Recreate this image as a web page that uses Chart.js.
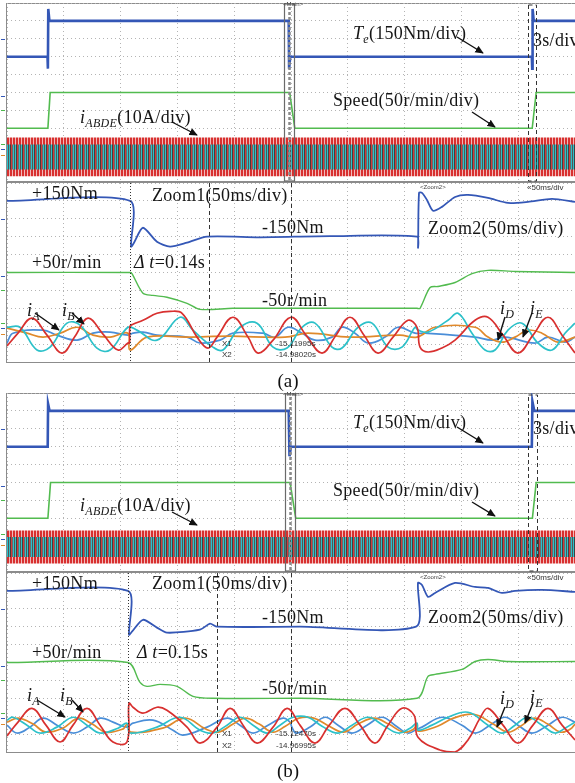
<!DOCTYPE html>
<html>
<head>
<meta charset="utf-8">
<script src="https://cdn.jsdelivr.net/npm/chart.js@4.4.0/dist/chart.umd.min.js"></script>
<style>
body { margin: 0; background: #fff; }
#page { position: relative; width: 575px; height: 783px; overflow: hidden; background: #fff; font-family: 'Liberation Serif', 'Times New Roman', serif; }
canvas { position: absolute; left: 7px; }
.frame { position: absolute; left: 6px; width: 600px; box-sizing: border-box; border: 1px solid #8c8c8c; }
.lbl { position: absolute; white-space: nowrap; font-size: 18px; line-height: 18px; color: #151515; letter-spacing: 0.3px; }
.lbl sub { font-size: 12px; line-height: 0; vertical-align: -4px; }
.tiny { position: absolute; white-space: nowrap; font-family: 'Liberation Sans', Arial, sans-serif; font-size: 8px; line-height: 8px; color: #333; }
.mini { position: absolute; white-space: nowrap; font-family: 'Liberation Sans', Arial, sans-serif; font-size: 6px; line-height: 6px; color: #444; }
.cap { position: absolute; width: 60px; text-align: center; font-size: 19px; line-height: 19px; color: #111; }
.mk { position: absolute; left: 1px; width: 4px; height: 1px; }
svg { position: absolute; left: 0; top: 0; }
</style>
</head>
<body>
<div id="page">
  <div class="frame" style="top:3px;height:180px"></div>
  <div class="frame" style="top:181px;height:182px;border-top:2px solid #8c8c8c"></div>
  <div class="frame" style="top:393px;height:180px"></div>
  <div class="frame" style="top:571px;height:182px;border-top:2px solid #8c8c8c"></div>

  <canvas id="aTop" width="568" height="179" style="top:3px"></canvas>
  <canvas id="aZoom" width="568" height="179" style="top:183px"></canvas>
  <canvas id="bTop" width="568" height="179" style="top:393px"></canvas>
  <canvas id="bZoom" width="568" height="179" style="top:573px"></canvas>

  <!-- channel markers on the left edge -->
  <div class="mk" style="top:39px;background:#3558b8"></div>
  <div class="mk" style="top:96px;background:#3558b8"></div>
  <div class="mk" style="top:110px;background:#4cb84c"></div>
  <div class="mk" style="top:144px;background:#4cb84c"></div>
  <div class="mk" style="top:149px;background:#3558b8"></div>
  <div class="mk" style="top:155px;background:#e0892b"></div>
  <div class="mk" style="top:219px;background:#3558b8"></div>
  <div class="mk" style="top:276px;background:#3558b8"></div>
  <div class="mk" style="top:290px;background:#4cb84c"></div>
  <div class="mk" style="top:323px;background:#4cb84c"></div>
  <div class="mk" style="top:328px;background:#3558b8"></div>
  <div class="mk" style="top:334px;background:#e0892b"></div>
  <div class="mk" style="top:429px;background:#3558b8"></div>
  <div class="mk" style="top:486px;background:#3558b8"></div>
  <div class="mk" style="top:500px;background:#4cb84c"></div>
  <div class="mk" style="top:534px;background:#4cb84c"></div>
  <div class="mk" style="top:539px;background:#3558b8"></div>
  <div class="mk" style="top:545px;background:#e0892b"></div>
  <div class="mk" style="top:609px;background:#3558b8"></div>
  <div class="mk" style="top:666px;background:#3558b8"></div>
  <div class="mk" style="top:680px;background:#4cb84c"></div>
  <div class="mk" style="top:713px;background:#4cb84c"></div>
  <div class="mk" style="top:718px;background:#3558b8"></div>
  <div class="mk" style="top:724px;background:#e0892b"></div>

  <!-- (a) labels -->
  <div class="lbl" style="left:353px;top:24px"><i>T</i><sub><i>e</i></sub>(150Nm/div)</div>
  <div class="lbl" style="left:533px;top:31px">3s/div</div>
  <div class="lbl" style="left:333px;top:91px">Speed(50r/min/div)</div>
  <div class="lbl" style="left:80px;top:108px"><i>i</i><sub><i>ABDE</i></sub>(10A/div)</div>
  <div class="lbl" style="left:32px;top:184px">+150Nm</div>
  <div class="lbl" style="left:152px;top:186px">Zoom1(50ms/div)</div>
  <div class="lbl" style="left:262px;top:218px">-150Nm</div>
  <div class="lbl" style="left:428px;top:219px">Zoom2(50ms/div)</div>
  <div class="lbl" style="left:32px;top:253px">+50r/min</div>
  <div class="lbl" style="left:134px;top:253px"><i>Δ t</i>=0.14s</div>
  <div class="lbl" style="left:262px;top:291px">-50r/min</div>
  <div class="lbl" style="left:27px;top:301px"><i>i</i><sub><i>A</i></sub></div>
  <div class="lbl" style="left:62px;top:301px"><i>i</i><sub><i>B</i></sub></div>
  <div class="lbl" style="left:500px;top:299px"><i>i</i><sub><i>D</i></sub></div>
  <div class="lbl" style="left:530px;top:299px"><i>i</i><sub><i>E</i></sub></div>
  <div class="tiny" style="left:222px;top:340px">X1</div>
  <div class="tiny" style="left:222px;top:351px">X2</div>
  <div class="tiny" style="left:276px;top:340px">-15.11995s</div>
  <div class="tiny" style="left:276px;top:351px">-14.98020s</div>
  <div class="mini" style="left:420px;top:184px">&lt;Zoom2&gt;</div>
  <div class="tiny" style="left:527px;top:184px">«50ms/div</div>
  <div class="mini" style="left:283px;top:1px">&lt;Main&gt;</div>
  <div class="cap" style="left:258px;top:371px">(a)</div>

  <!-- (b) labels -->
  <div class="lbl" style="left:353px;top:413px"><i>T</i><sub><i>e</i></sub>(150Nm/div)</div>
  <div class="lbl" style="left:533px;top:419px">3s/div</div>
  <div class="lbl" style="left:333px;top:481px">Speed(50r/min/div)</div>
  <div class="lbl" style="left:80px;top:496px"><i>i</i><sub><i>ABDE</i></sub>(10A/div)</div>
  <div class="lbl" style="left:32px;top:574px">+150Nm</div>
  <div class="lbl" style="left:152px;top:574px">Zoom1(50ms/div)</div>
  <div class="lbl" style="left:262px;top:608px">-150Nm</div>
  <div class="lbl" style="left:428px;top:608px">Zoom2(50ms/div)</div>
  <div class="lbl" style="left:32px;top:643px">+50r/min</div>
  <div class="lbl" style="left:137px;top:643px"><i>Δ t</i>=0.15s</div>
  <div class="lbl" style="left:262px;top:679px">-50r/min</div>
  <div class="lbl" style="left:27px;top:686px"><i>i</i><sub><i>A</i></sub></div>
  <div class="lbl" style="left:60px;top:686px"><i>i</i><sub><i>B</i></sub></div>
  <div class="lbl" style="left:500px;top:689px"><i>i</i><sub><i>D</i></sub></div>
  <div class="lbl" style="left:530px;top:688px"><i>i</i><sub><i>E</i></sub></div>
  <div class="tiny" style="left:222px;top:730px">X1</div>
  <div class="tiny" style="left:222px;top:742px">X2</div>
  <div class="tiny" style="left:276px;top:730px">-15.12470s</div>
  <div class="tiny" style="left:276px;top:742px">-14.96995s</div>
  <div class="mini" style="left:420px;top:574px">&lt;Zoom2&gt;</div>
  <div class="tiny" style="left:527px;top:574px">«50ms/div</div>
  <div class="mini" style="left:283px;top:391px">&lt;Main&gt;</div>
  <div class="cap" style="left:258px;top:761px">(b)</div>

  <svg width="575" height="783">
    <defs>
      <marker id="ah" viewBox="0 0 10 10" refX="9" refY="5" markerWidth="6" markerHeight="6" orient="auto">
        <path d="M0,0.5 L10,5 L0,9.5 z" fill="#111"></path>
      </marker>
    </defs>
    <g stroke="#111" stroke-width="1.4" marker-end="url(#ah)">
      <line x1="457" y1="37" x2="483" y2="53"></line>
      <line x1="472" y1="112" x2="495" y2="127"></line>
      <line x1="172" y1="122" x2="197" y2="135"></line>
      <line x1="35" y1="313" x2="59" y2="330"></line>
      <line x1="72" y1="313" x2="84" y2="324"></line>
      <line x1="505" y1="317" x2="498" y2="340"></line>
      <line x1="532" y1="313" x2="523" y2="337"></line>

      <line x1="457" y1="427" x2="483" y2="443"></line>
      <line x1="472" y1="502" x2="495" y2="516"></line>
      <line x1="172" y1="512" x2="197" y2="525"></line>
      <line x1="37" y1="700" x2="65" y2="717"></line>
      <line x1="72" y1="700" x2="83" y2="712"></line>
      <line x1="505" y1="707" x2="497" y2="727"></line>
      <line x1="533" y1="703" x2="525" y2="723"></line>
    </g>
  </svg>
</div>

<script>
// ---- overview (3 s/div) : time in s ----
const bandTime = [0, 30];

const ovTorqueT_a = [0, 2.14, 2.16, 2.18, 2.24, 14.88, 14.9, 14.96, 27.72, 27.74, 27.76, 27.82, 30];
const ovTorque_a = [-150, -150, -250, 250, 150, 150, -250, -150, -150, -250, 250, 150, 150];
const ovSpeedT_a = [0, 2.16, 2.28, 14.93, 15.2, 27.74, 27.95, 30];
const ovSpeed_a = [-50, -50, 50, 50, -50, -50, 50, 50];
const redEnvHi_a = [10.8, 10.8];
const redEnvLo_a = [-10.8, -10.8];
const cyanEnvHi_a = [7, 7];
const cyanEnvLo_a = [-7, -7];
const windows_a = [[14.63, 15.16], [27.52, 27.94]];

const ovTorqueT_b = [0, 2.15, 2.17, 2.25, 14.88, 14.92, 15.0, 27.72, 27.75, 27.85, 30];
const ovTorque_b = [-150, -150, 210, 150, 150, -230, -150, -150, 230, 150, 150];
const ovSpeedT_b = [0, 2.16, 2.3, 14.95, 15.25, 27.75, 27.95, 30];
const ovSpeed_b = [-50, -50, 50, 50, -50, -50, 50, 50];
const redEnvHi_b = [9.2, 9.2];
const redEnvLo_b = [-9.2, -9.2];
const cyanEnvHi_b = [5.6, 5.6];
const cyanEnvLo_b = [-5.6, -5.6];
const windows_b = [[14.68, 15.21], [27.52, 27.99]];

// ---- zoom windows (50 ms/div) : time in ms ----
const zTorqueT_a = [0, 108.3, 109.2, 111.8, 119.7, 132, 143.5, 158.5, 176.1, 222.7, 284.3, 360.9, 361.8, 362.7, 365.3, 369.7, 375, 382.9, 394.4, 405.8, 423.4, 441, 458.6, 479.8, 500];
const zTorque_a = [150, 150, -233, -200, -75, -192, -233, -200, -150, -155, -145, -150, -242, 217, 217, 158, 67, 100, 183, 200, 175, 133, 142, 167, 142];
const zSpeedT_a = [0, 108.3, 110, 119.7, 128.5, 140.8, 158.5, 169.9, 198.9, 257.9, 360.9, 363.6, 372.4, 379.4, 394.4, 409.3, 423.4, 447.2, 500];
const zSpeed_a = [50, 50, 47, -8, -14, -19, -36, -53, -50, -50, -50, -50, 8, 11, 22, 47, 56, 53, 50];

const iRedT_a = [0, 9.7, 22, 35.2, 48.4, 59.9, 71.3, 84.5, 97.7, 106.5, 107.8, 108.3, 110.9, 119.7, 132, 143.5, 154.1, 167.3, 176.9, 184.9, 198.9, 212.2, 221, 234.2, 249.9, 263.2, 277.3, 289.6, 301.9, 314.3, 326.6, 339.8, 353, 360.9, 363.6, 370.6, 382.9, 394.4, 412, 423.4, 436.6, 449.8, 463, 476.2, 488.6, 500];
const iRed_a = [-6.1, 1.1, 9.5, 0, -10, -0.6, 9.5, 0.6, -8.3, -4.4, -4.4, 5, 6.1, 8.3, 12.2, 13.3, 12.2, -1.1, -7.2, -1.1, 10, -1.1, -10, -2.8, 10, 0, -10, 0, 10, 0, -10, -1.1, 8.3, 4.4, -6.7, -9.4, -7.2, -2.8, 8.3, 10, 0, -10, 0, 10, 0, -10];
const iCyanT_a = [0, 11.4, 26.4, 37.9, 52.8, 64.3, 79.2, 90.7, 106.5, 114.4, 132, 152.3, 163.7, 181.3, 190.1, 205.1, 220.1, 234.2, 246.5, 259.7, 271.1, 286.1, 294.9, 309, 321.3, 335.4, 347.7, 359.2, 361.8, 370.6, 388.2, 397, 409.3, 420.8, 429.6, 441, 453.3, 467.4, 479.8, 491.2, 500];
const iCyan_a = [4.4, 4.4, -8.3, -6.7, 6.7, 5.6, -7.2, -8.3, 4.4, 2.8, -2.8, 10, 2.8, -6.7, -8.3, 4.4, 6.7, -6.7, -7.2, 4.4, 6.7, -6.7, -7.2, 4.4, 6.7, -6.7, -6.7, 4.4, 2.8, 1.7, 8.3, 12.2, 1.1, -8.3, -8.3, 2.8, 6.7, -4.4, -8.3, 1.1, 6.7];
const iOrangeT_a = [0, 17.6, 31.7, 46.7, 61.6, 75.7, 90.7, 106.5, 108.3, 123.2, 158.5, 196.3, 244.7, 265, 301.9, 345.9, 360.9, 376.8, 412, 423.4, 435.7, 447.2, 458.6, 470.9, 485, 500];
const iOrange_a = [3.9, 1.1, -1.1, 1.1, 4.4, 0, -1.1, 1.1, -8.3, -1.1, -1.1, -0.6, -1.1, 1.1, -1.1, 0, -1.1, 4.4, 4.4, -1.1, -3.9, -1.1, 2.8, 1.1, -3.9, -1.1];
const iBlueT_a = [0, 5.3, 31.7, 44, 61.6, 75.7, 90.7, 106.5, 110.9, 119.7, 132, 158.5, 169.9, 187.5, 198.9, 225.4, 235.9, 247.4, 259.7, 271.1, 286.1, 294.9, 306.3, 317.8, 332.8, 344.2, 359.2, 367.9, 412, 426.9, 438.4, 464.8, 476.2, 491.2, 500];
const iBlue_a = [-4.4, 1.1, 2.8, 0, -2.8, 1.1, 1.7, 0, 1.1, 1.7, 0, -1.1, -4.4, -2.8, 1.1, 1.1, -1.1, 4.4, 1.1, -2.8, -1.1, 4.4, 1.1, -4.4, -1.1, 4.4, 1.1, 1.1, -1.1, -2.8, -1.1, -4.4, -1.1, -3.9, -1.1];
const cursors_a = [108.3, 177.8, 250];

const zTorqueT_b = [0, 106.5, 107.4, 110, 119.7, 132, 140.8, 169.9, 178.7, 184.9, 257.9, 360.1, 361.8, 365.3, 370.6, 376.8, 394.4, 412, 423.4, 435.7, 447.2, 470.9, 500];
const zTorque_b = [150, 150, -217, -192, -92, -158, -200, -175, -125, -150, -150, -150, 217, 200, 100, 133, 217, 183, 175, 133, 150, 158, 142];
const zSpeedT_b = [0, 106.5, 117.1, 123.2, 134.7, 149.7, 163.7, 181.3, 257.9, 360.9, 370.6, 376.8, 400.5, 412, 423.4, 441, 500];
const zSpeed_b = [50, 50, -5.6, -16.7, -11.1, -16.7, -44.4, -50, -50, -50, 11.1, 16.7, 30.6, 52.8, 58.3, 52.8, 52.8];

const iRedT_b = [0, 9.7, 22, 34.3, 46.7, 58.1, 70.4, 81.9, 93.3, 105.6, 107.4, 110.9, 119.7, 132, 140.8, 158.5, 169.9, 184.9, 196.3, 207.8, 220.1, 234.2, 246.5, 257.9, 271.1, 283.7, 297.5, 310.8, 323.9, 335.4, 347.7, 358.3, 361.8, 381.2, 394.4, 405.8, 416.4, 423.4, 436.6, 449.8, 463, 476.2, 488.6, 500];
const iRed_b = [-6.1, 1.7, 9.4, 0, -9.4, 0, 9.4, 0, -9.4, -9.4, 12.2, 10, 6.7, 10, 8.3, -1.1, -10, -1.1, 9.4, 0, -10, -1.1, 9.4, 0, -10, 0, 9.4, 0, -10, 0, 9.4, 5.6, -6.7, -13.9, -15, -8.3, 3.9, 9.4, 0, -10, 0, 9.4, 0, -8.3];
const iCyanT_b = [0, 5.3, 17.6, 29.1, 44, 58.1, 70.4, 81.9, 97.7, 105.6, 108.3, 132, 152.3, 169.9, 181.3, 193.7, 205.1, 216.6, 228.9, 240.3, 251.8, 265, 277.3, 291.4, 303.7, 317.8, 331, 344.2, 354.8, 360.9, 361.8, 374.1, 388.2, 405.8, 423.4, 435.7, 447.2, 458.6, 470.9, 482.4, 491.2, 500];
const iCyan_b = [2.8, 4.4, 0, -4.4, -1.1, 4.4, 0, -4.4, -1.7, 1.1, -4.4, -1.1, 4.4, -2.8, -4.4, 0, 4.4, 0, -4.4, 0, 4.4, 4.4, -0.6, -4.4, 0, 4.4, 0, -4.4, -1.7, 1.1, -2.8, 0, 4.4, 7.2, 0, -4.4, 0, 4.4, 0, -4.4, -1.7, 1.7];
const iOrangeT_b = [0, 10, 23, 34, 49, 63, 75, 87, 102, 106, 109, 137, 157, 175, 186, 199, 210, 222, 234, 245, 257, 270, 282, 296, 309, 323, 336, 349, 358, 361, 362, 379, 393, 411, 428, 441, 452, 464, 476, 487, 496, 500];
const iOrange_b = [1.7, 3.9, 0.6, -3.9, -1.7, 3.9, 0.6, -3.9, -2.2, 0.6, -3.9, -1.7, 3.9, -2.2, -3.9, 0.6, 3.9, 0.6, -3.9, -0.6, 3.9, 3.9, 0, -3.9, 0.6, 3.9, 0.6, -3.9, -2.2, 0.6, -3.3, -0.6, 3.9, 6.1, 0.6, -3.9, -0.6, 3.9, 0.6, -3.9, -2.2, 0.6];
const iBlueT_b = [0, 8.8, 20.2, 31.7, 44, 58.1, 70.4, 81.9, 93.3, 105.6, 110.9, 128.5, 146.1, 154.9, 176.1, 193.7, 205.1, 216.6, 229.8, 243, 249.1, 250.8, 254.4, 266.8, 279.9, 291.4, 303.7, 316.9, 330.1, 341.5, 353, 360.9, 365.3, 382.9, 400.5, 412, 425.2, 438.4, 449.8, 462.1, 476.2, 488.6, 500];
const iBlue_b = [0, -4.4, -1.1, 3.9, 0, -4.4, -1.1, 3.9, 1.7, -1.1, 1.1, 2.8, -2.8, -5.6, -1.1, 3.9, 0, -4.4, 0, 3.9, 1.7, -1.1, -4.4, -1.1, 4.4, 0, -4.4, 0, 4.4, 0, -4.4, -2.2, -1.1, 4.4, 0, -4.4, 0, 4.4, 0, -4.4, 0, 4.4, 1.7];
const cursors_b = [106.5, 184.9, 250];

const TORQUE_COLOR = '#3457b6';
const SPEED_COLOR = '#52bb4f';
const RED = '#d8302f';
const CYAN = '#2cc1c9';
const ORANGE = '#e0892b';
const LIGHT_BLUE = '#4a8ed8';

function xy(ts, vs) {
    return ts.map((t, i) => ({ x: t, y: vs[i] }));
}

function stripes(colors) {
    const c = document.createElement('canvas');
    c.width = colors.length;
    c.height = 2;
    const g = c.getContext('2d');
    colors.forEach((col, i) => {
        g.fillStyle = col;
        g.fillRect(i, 0, 1, 2);
    });
    return g.createPattern(c, 'repeat');
}

function line(data, color, width, axis, tension, order) {
    return {
        data: data,
        borderColor: color,
        borderWidth: width,
        pointRadius: 0,
        fill: false,
        tension: tension,
        yAxisID: axis,
        order: order
    };
}

// cursors and zoom-window boxes, placed with the x scale
const markers = {
    id: 'markers',
    afterDatasetsDraw(chart, args, opts) {
        const ctx = chart.ctx;
        const area = chart.chartArea;
        const xs = chart.scales.x;
        ctx.save();
        (opts.cursors || []).forEach((t, i) => {
            const px = Math.round(xs.getPixelForValue(t)) + 0.5;
            ctx.strokeStyle = '#333';
            ctx.lineWidth = 1;
            ctx.setLineDash(i === 0 ? [1, 2] : [4, 3]);
            ctx.beginPath();
            ctx.moveTo(px, area.top);
            ctx.lineTo(px, area.bottom);
            ctx.stroke();
        });
        (opts.windows || []).forEach((w, i) => {
            const x0 = Math.round(xs.getPixelForValue(w[0])) + 0.5;
            const x1 = Math.round(xs.getPixelForValue(w[1])) + 0.5;
            if (i === 0) {
                ctx.setLineDash([]);
                ctx.strokeStyle = '#6a6a6a';
                ctx.lineWidth = 1.2;
                ctx.strokeRect(x0, area.top + 1, x1 - x0, area.bottom - area.top - 2);
                ctx.setLineDash([3, 2]);
                ctx.lineWidth = 2.5;
                ctx.strokeStyle = '#8a8a8a';
                const xm = (x0 + x1) / 2;
                ctx.beginPath();
                ctx.moveTo(xm, area.top + 4);
                ctx.lineTo(xm, area.bottom - 2);
                ctx.stroke();
            } else {
                ctx.setLineDash([4, 3]);
                ctx.strokeStyle = '#333';
                ctx.lineWidth = 1;
                ctx.strokeRect(x0, area.top + 2, x1 - x0, area.bottom - area.top - 3);
            }
        });
        ctx.restore();
    }
};

function gridScale(min, max, step) {
    return {
        type: 'linear',
        min: min,
        max: max,
        ticks: { display: false, stepSize: step },
        grid: { color: '#b4b4b4', lineWidth: 1, drawTicks: false },
        border: { display: false, dash: [1, 3] }
    };
}

function baseOptions(xMax, xStep, currentMin, currentMax, markerOpts) {
    return {
        responsive: false,
        maintainAspectRatio: false,
        animation: false,
        layout: { padding: 0, autoPadding: false },
        plugins: {
            legend: { display: false },
            tooltip: { enabled: false },
            markers: markerOpts
        },
        scales: {
            x: gridScale(0, xMax, xStep),
            yT: Object.assign(gridScale(-1200, 300, 150), { position: 'left' }),
            yS: { type: 'linear', display: false, min: -200, max: 300 },
            yI: { type: 'linear', display: false, min: currentMin, max: currentMax }
        }
    };
}

function overview(id, tT, tV, sT, sV, rHi, rLo, cHi, cLo, windows) {
    const redPattern = stripes([RED, RED, '#f1b9b9']);
    const corePattern = stripes([CYAN, '#555555', CYAN, '#3f3f3f', '#d23a3a', '#6a6a6a']);
    new Chart(document.getElementById(id), {
        type: 'line',
        data: {
            datasets: [
                line(xy(tT, tV), TORQUE_COLOR, 2.6, 'yT', 0, 1),
                line(xy(sT, sV), SPEED_COLOR, 1.6, 'yS', 0, 2),
                { data: xy(bandTime, cHi), borderWidth: 0, pointRadius: 0, fill: '+1', backgroundColor: corePattern, yAxisID: 'yI', order: 3 },
                { data: xy(bandTime, cLo), borderWidth: 0, pointRadius: 0, fill: false, yAxisID: 'yI', order: 4 },
                { data: xy(bandTime, rHi), borderWidth: 0, pointRadius: 0, fill: '+1', backgroundColor: redPattern, yAxisID: 'yI', order: 5 },
                { data: xy(bandTime, rLo), borderWidth: 0, pointRadius: 0, fill: false, yAxisID: 'yI', order: 6 }
            ]
        },
        options: baseOptions(30, 3, -14, 86, { windows: windows }),
        plugins: [markers]
    });
}

function zoom(id, tT, tV, sT, sV, currents, cursors) {
    const datasets = [
        line(xy(tT, tV), TORQUE_COLOR, 1.8, 'yT', 0.25, 1),
        line(xy(sT, sV), SPEED_COLOR, 1.4, 'yS', 0.3, 2)
    ];
    currents.forEach((c, i) => {
        datasets.push(line(xy(c[0], c[1]), c[2], 1.7, 'yI', 0.4, 3 + i));
    });
    new Chart(document.getElementById(id), {
        type: 'line',
        data: { datasets: datasets },
        options: baseOptions(500, 50, -15, 85, { cursors: cursors }),
        plugins: [markers]
    });
}

overview('aTop', ovTorqueT_a, ovTorque_a, ovSpeedT_a, ovSpeed_a, redEnvHi_a, redEnvLo_a, cyanEnvHi_a, cyanEnvLo_a, windows_a);
overview('bTop', ovTorqueT_b, ovTorque_b, ovSpeedT_b, ovSpeed_b, redEnvHi_b, redEnvLo_b, cyanEnvHi_b, cyanEnvLo_b, windows_b);

zoom('aZoom', zTorqueT_a, zTorque_a, zSpeedT_a, zSpeed_a, [
    [iRedT_a, iRed_a, RED],
    [iCyanT_a, iCyan_a, CYAN],
    [iOrangeT_a, iOrange_a, ORANGE],
    [iBlueT_a, iBlue_a, LIGHT_BLUE]
], cursors_a);

zoom('bZoom', zTorqueT_b, zTorque_b, zSpeedT_b, zSpeed_b, [
    [iRedT_b, iRed_b, RED],
    [iCyanT_b, iCyan_b, CYAN],
    [iOrangeT_b, iOrange_b, ORANGE],
    [iBlueT_b, iBlue_b, LIGHT_BLUE]
], cursors_b);
</script>
</body>
</html>
